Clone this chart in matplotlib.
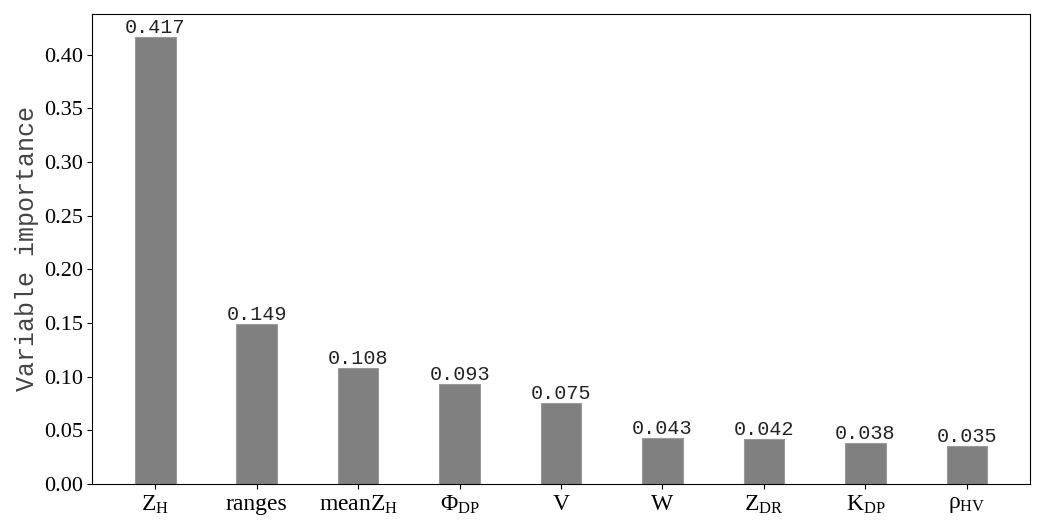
import numpy as np
from matplotlib import pyplot as plt

plt.rcParams['font.family'] = 'Liberation Serif'
plt.rcParams['mathtext.fontset'] = 'custom'
plt.rcParams['mathtext.rm'] = 'Liberation Serif'
plt.rcParams['mathtext.it'] = 'Liberation Serif'

labels = [r'Z$_\mathrm{H}$', 'ranges', r'meanZ$_\mathrm{H}$', r'Φ$_\mathrm{DP}$', 'V', 'W',
          r'Z$_\mathrm{DR}$', r'K$_\mathrm{DP}$', r'ρ$_\mathrm{HV}$']
importance = [0.417, 0.149, 0.108, 0.093, 0.075, 0.043, 0.042, 0.038, 0.035]

fig, ax = plt.subplots(figsize=(10.38, 5.22), dpi=100)
fig.subplots_adjust(left=0.089, right=0.992, top=0.973, bottom=0.073)

x = np.arange(len(labels))
bars = ax.bar(x, importance, width=0.4, color='#808080', edgecolor='#9a9a9a', linewidth=0.8)
for xi, v in zip(x, importance):
    ax.text(xi, v, f'{v:.3f}', ha='center', va='bottom', fontsize=14.5,
            family='Liberation Mono', color='#222222')

ax.set_xticks(x)
ax.set_xticklabels(labels, fontsize=17)
ax.tick_params(axis='y', labelsize=16)
ax.set_ylim(0, 0.438)
ax.set_yticks(np.arange(0, 0.41, 0.05))
ax.set_yticklabels([f'{t:.2f}' for t in np.arange(0, 0.41, 0.05)])
ax.set_ylabel('Variable importance', fontsize=18, family='Liberation Mono',
              color='#444444', labelpad=3)

plt.savefig('out.png')
